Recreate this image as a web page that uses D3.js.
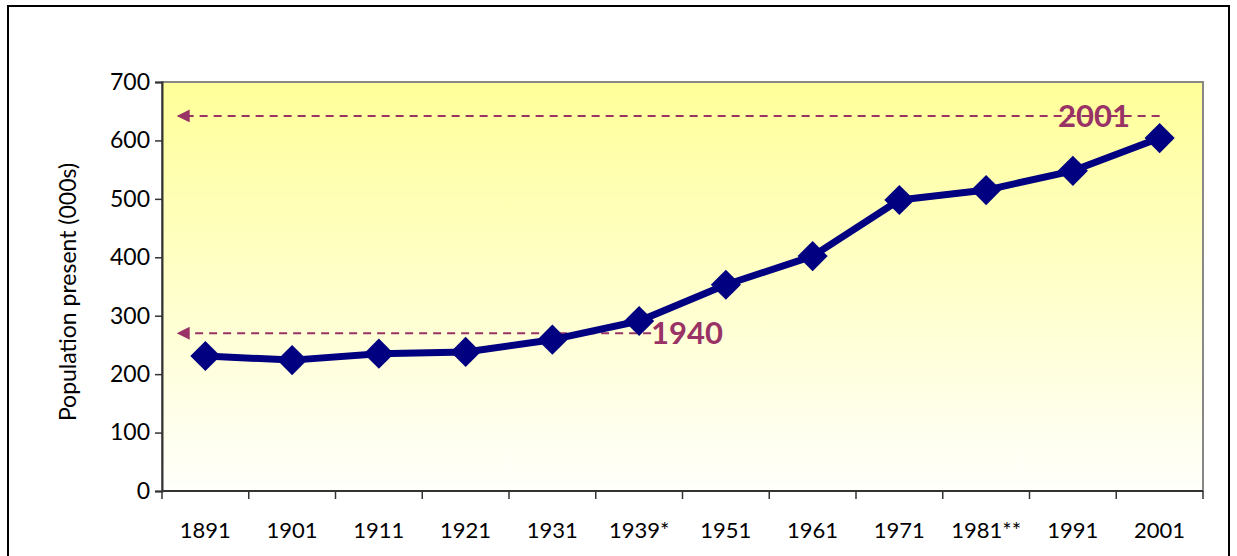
<!DOCTYPE html>
<html lang="en">
<head>
  <meta charset="UTF-8">
  <script src="https://cdn.jsdelivr.net/npm/d3@7"></script>
  <title>Population present</title>
  <style>
    body { margin: 0; background: #fff; }
    text { font-family: "Lato", "Open Sans", sans-serif; }
  </style>
</head>
<body>
  <svg width="1237" height="556"></svg>
  <script>
    var years = ["1891", "1901", "1911", "1921", "1931", "1939*", "1951", "1961", "1971", "1981**", "1991", "2001"];
    var population = [231, 224, 235, 238, 259, 291, 353, 402, 498, 515, 548, 604];
    var yTicks = [0, 100, 200, 300, 400, 500, 600, 700];
    // reference lines: value and category the arrow starts from
    var refLines = [
      { label: "2001", value: 642, from: "2001", extra: 0 },
      { label: "1940", value: 270, from: "1939*", extra: 12 }
    ];

    var svg = d3.select("svg");
    var marge = { top: 82, left: 162, right: 1203, bottom: 491 };

    // outer frame
    svg.append("rect")
      .attr("x", 8).attr("y", 6)
      .attr("width", 1221).attr("height", 560)
      .attr("fill", "none").attr("stroke", "#000").attr("stroke-width", 2);

    var defs = svg.append("defs");
    var grad = defs.append("linearGradient")
      .attr("id", "bg").attr("x1", 0).attr("y1", 0).attr("x2", 0).attr("y2", 1);
    grad.append("stop").attr("offset", "0%").attr("stop-color", "#ffff99");
    grad.append("stop").attr("offset", "100%").attr("stop-color", "#fffffc");

    defs.append("marker")
      .attr("id", "arrow")
      .attr("viewBox", "0 0 10 10")
      .attr("refX", 9).attr("refY", 5)
      .attr("markerWidth", 15).attr("markerHeight", 13)
      .attr("markerUnits", "userSpaceOnUse")
      .attr("orient", "auto")
      .append("path")
      .attr("d", "M10,5 L0,0 L0,10 Z")
      .attr("fill", "#993366");

    var xScale = d3.scaleBand()
      .domain(years)
      .range([marge.left, marge.right]);
    var yScale = d3.scaleLinear()
      .domain([0, 700])
      .range([marge.bottom, marge.top]);

    // plot area
    svg.append("rect")
      .attr("x", marge.left).attr("y", marge.top)
      .attr("width", marge.right - marge.left)
      .attr("height", marge.bottom - marge.top)
      .attr("fill", "url(#bg)")
      .attr("stroke", "#888").attr("stroke-width", 2);

    // y axis
    var yAxis = d3.axisLeft(yScale).tickValues(yTicks).tickSize(7).tickPadding(5);
    var gy = svg.append("g")
      .attr("transform", `translate(${marge.left},0)`)
      .call(yAxis);
    gy.attr("font-size", 23).attr("font-family", null);
    gy.select(".domain").attr("stroke", "#333").attr("stroke-width", 2);
    gy.selectAll(".tick line").attr("stroke", "#333").attr("stroke-width", 1.5);
    gy.selectAll("text").attr("fill", "#000");

    // x axis, ticks between categories
    var gx = svg.append("g")
      .attr("transform", `translate(0,${marge.bottom})`);
    gx.append("line")
      .attr("x1", marge.left).attr("x2", marge.right)
      .attr("stroke", "#333").attr("stroke-width", 2);
    gx.selectAll(".xt")
      .data(d3.range(years.length + 1))
      .enter().append("line")
      .attr("x1", i => marge.left + i * xScale.step())
      .attr("x2", i => marge.left + i * xScale.step())
      .attr("y1", 0).attr("y2", 8)
      .attr("stroke", "#333").attr("stroke-width", 1.5);
    gx.selectAll(".xl")
      .data(years)
      .enter().append("text")
      .attr("x", d => xScale(d) + xScale.bandwidth() / 2)
      .attr("y", 47)
      .attr("text-anchor", "middle")
      .attr("font-size", 22)
      .text(d => d);

    // y label
    svg.append("text")
      .attr("transform", "translate(76,292) rotate(-90)")
      .attr("text-anchor", "middle")
      .attr("font-size", 23)
      .text("Population present (000s)");

    // reference dashed arrows
    refLines.forEach(function (r) {
      var xEnd = xScale(r.from) + xScale.bandwidth() / 2 + r.extra;
      svg.append("line")
        .attr("x1", xEnd).attr("x2", marge.left + 16)
        .attr("y1", yScale(r.value)).attr("y2", yScale(r.value))
        .attr("stroke", "#993366").attr("stroke-width", 2)
        .attr("stroke-dasharray", "8,6")
        .attr("marker-end", "url(#arrow)");
    });

    // series line
    var line = d3.line()
      .x((d, i) => xScale(years[i]) + xScale.bandwidth() / 2)
      .y(d => yScale(d));
    svg.append("path")
      .datum(population)
      .attr("d", line)
      .attr("fill", "none")
      .attr("stroke", "#000080")
      .attr("stroke-width", 7)
      .attr("stroke-linejoin", "round");

    svg.selectAll(".pt")
      .data(population)
      .enter().append("path")
      .attr("d", d3.symbol().type(d3.symbolDiamond2).size(580))
      .attr("transform", (d, i) => `translate(${xScale(years[i]) + xScale.bandwidth() / 2},${yScale(d)})`)
      .attr("fill", "#000080");

    // annotation labels
    svg.append("text")
      .attr("x", 1094).attr("y", yScale(642) + 11)
      .attr("text-anchor", "middle")
      .attr("font-size", 31).attr("font-weight", "bold")
      .attr("fill", "#993366")
      .text("2001");
    svg.append("text")
      .attr("x", 687).attr("y", yScale(270) + 11)
      .attr("text-anchor", "middle")
      .attr("font-size", 31).attr("font-weight", "bold")
      .attr("fill", "#993366")
      .text("1940");
  </script>
</body>
</html>
